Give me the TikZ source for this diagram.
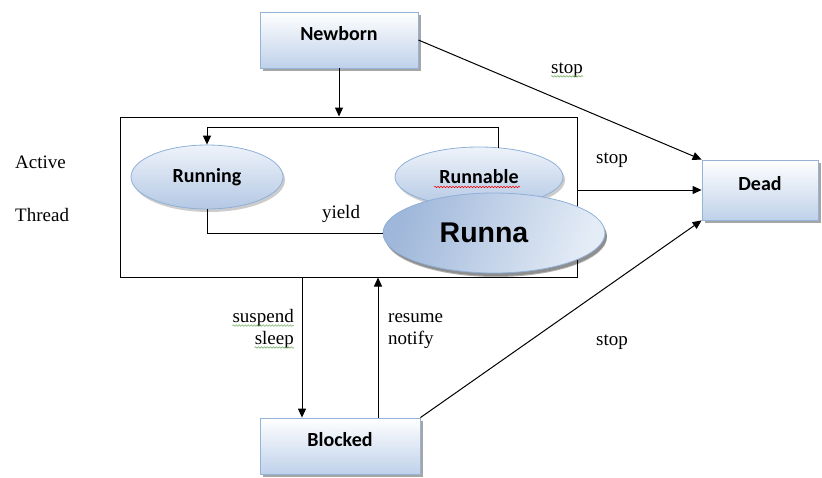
\documentclass[tikz,border=0pt]{standalone}
\usepackage{fontspec}
\setmainfont{Liberation Serif}
\newfontfamily\calibrifont{Carlito}
\newfontfamily\arialfont{Liberation Sans}
\usetikzlibrary{arrows.meta,shadows,shapes.geometric,decorations.pathmorphing}
\definecolor{boxblue}{HTML}{BFD1EA}
\definecolor{boxedge}{HTML}{95B3D7}
\definecolor{elltop}{HTML}{EEF3FA}
\definecolor{ellbot}{HTML}{B4C8E4}
\definecolor{elledge}{HTML}{8FB0D8}
\definecolor{runnaleft}{HTML}{9FB7DA}
\definecolor{runnaright}{HTML}{E4ECF6}
\definecolor{squiggreen}{HTML}{6BAA5A}
\tikzset{
  statebox/.style={draw=boxedge, line width=0.8pt, top color=white, bottom color=boxblue,
    minimum width=#1, minimum height=56pt, inner sep=0pt, text height=14pt, text depth=13pt,
    font=\calibrifont\bfseries\fontsize{20}{24}\selectfont,
    drop shadow={shadow xshift=3pt, shadow yshift=-3pt, fill=black, opacity=0.35}},
  stateell/.style={ellipse, draw=elledge, line width=0.8pt, top color=elltop, bottom color=ellbot,
    inner sep=0pt, font=\calibrifont\bfseries\fontsize{20}{24}\selectfont,
    drop shadow={shadow xshift=2pt, shadow yshift=-3pt, fill=black, opacity=0.2}},
  lbl/.style={font=\fontsize{19}{22}\selectfont, inner sep=0pt},
  conn/.style={line width=1pt, draw=black},
  arr/.style={conn, -{Triangle[length=9pt,width=8pt]}},
  squig/.style={draw=#1, line width=0.5pt, decorate, decoration={snake, segment length=3pt, amplitude=0.8pt}}
}
\begin{document}
\begin{tikzpicture}[x=1pt,y=-1pt]
\useasboundingbox (0,0) rectangle (822,477);
% big box
\node[draw, line width=1pt, minimum width=457pt, minimum height=160pt, inner sep=0pt] (box) at (348.5,197) {};
% state boxes
\node[statebox=158pt] (newborn) at (339,40) {Newborn};
\node[statebox=116pt, minimum height=60pt] (dead) at (760,190) {Dead};
\node[statebox=160pt] (blocked) at (340,446) {Blocked};
% ellipses
\node[stateell, minimum width=152pt, minimum height=64pt] (running) at (207,177) {Running};
\node[stateell, minimum width=168pt, minimum height=60pt] (runnable) at (479,177) {Runnable};
\coordinate (loopstart) at (498,148);
\coordinate (loopy) at (0,127);
\draw[arr] (loopstart) -- (loopstart |- loopy) -| (running.north);
\node[stateell, minimum width=222pt, minimum height=80pt, left color=runnaleft, right color=runnaright,
  shading angle=70, font=\arialfont\bfseries\fontsize{28.5}{32}\selectfont,
  drop shadow={shadow xshift=2pt, shadow yshift=-4pt, fill=black, opacity=0.3}] (runna) at (494,233) {Runna\kern20pt\null};
\draw[conn] (running.south) |- (runna.west);
\node[lbl] (yield) at (341,214) {yield};
% side labels
\node[lbl, anchor=west] (active) at (15,162) {Active};
\node[lbl, anchor=west] (thread) at (15,215) {Thread};
% connectors
\draw[arr] (newborn.south) -- (newborn.south |- box.north);
\draw[arr] (newborn.east) -- (dead.north west);
\draw[arr] (dead.west -| box.east) -- (dead.west);
\draw[arr] (blocked.north east) -- (dead.south west);
\coordinate (downx) at (302,0);
\coordinate (upx) at (378,0);
\draw[arr] (box.south -| downx) -- (blocked.north -| downx);
\draw[arr] (blocked.north -| upx) -- (box.south -| upx);
% labels
\node[lbl] (stop1) at (567,70) {stop};
\node[lbl] (stop2) at (612,160) {stop};
\node[lbl] (stop3) at (612,342) {stop};
\node[lbl, anchor=east] (suspend) at (294,318) {suspend};
\node[lbl, anchor=east] (sleep) at (294,340) {sleep};
\node[lbl, anchor=west] (resume) at (388,318) {resume};
\node[lbl, anchor=west] (notify) at (388,340) {notify};
% squiggles
\draw[squig=red] ([xshift=-45pt,yshift=-10pt]runnable.center) -- ([xshift=41pt,yshift=-10pt]runnable.center);
\draw[squig=squiggreen] ([yshift=-3pt]stop1.base west) -- ([yshift=-3pt]stop1.base east);
\draw[squig=squiggreen] ([yshift=-3pt]suspend.base west) -- ([yshift=-3pt]suspend.base east);
\draw[squig=squiggreen] ([yshift=-3pt]sleep.base west) -- ([yshift=-3pt]sleep.base east);
\end{tikzpicture}
\end{document}
